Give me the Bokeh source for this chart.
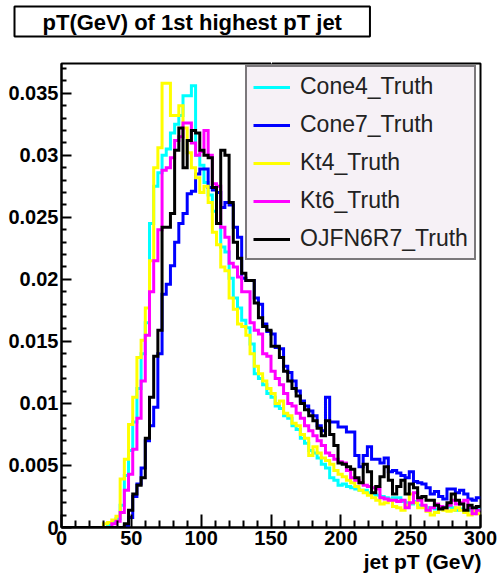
from bokeh.plotting import figure
from bokeh.models import (Range1d, FixedTicker, CustomJSTickFormatter, Legend,
                          LegendItem, Title, LinearAxis)
from bokeh.embed import file_html
from bokeh.resources import INLINE

# ---------------- data (normalised entries per 3 GeV bin, 0-300 GeV) ----------------
bin_width = 3.0

cone4_truth = [
    0, 0, 0, 0, 0, 0, 0, 0, 0, 0,
    0, 0.0002, 0.0004, 0.0007, 0.0018, 0.0042, 0.0062, 0.0085, 0.0112, 0.0140,
    0.0165, 0.0245, 0.0275, 0.0286, 0.0300, 0.0305, 0.0318, 0.0325, 0.0332, 0.0348,
    0.0348, 0.0356, 0.0300, 0.0292, 0.0278, 0.0268, 0.0255, 0.0245, 0.0226, 0.0222,
    0.0201, 0.0185, 0.0177, 0.0167, 0.0161, 0.0148, 0.0124, 0.0120, 0.0115, 0.0108,
    0.0105, 0.0098, 0.0096, 0.0090, 0.0088, 0.0082, 0.0079, 0.0072, 0.0068, 0.0062,
    0.0060, 0.0056, 0.0051, 0.0048, 0.0040, 0.0038, 0.0034, 0.0035, 0.0033, 0.0032,
    0.0031, 0.0030, 0.0030, 0.0028, 0.0027, 0.0026, 0.0025, 0.0024, 0.0023, 0.0024,
    0.0024, 0.0021, 0.0020, 0.0019, 0.0021, 0.0018, 0.0017, 0.0016, 0.0016, 0.0015,
    0.0017, 0.0015, 0.0017, 0.0016, 0.0014, 0.0015, 0.0013, 0.0014, 0.0013, 0.0015,
]

cone7_truth = [
    0, 0, 0, 0, 0, 0, 0, 0, 0, 0,
    0, 0, 0, 0, 0, 0.0001, 0.0008, 0.0025, 0.0035, 0.0048,
    0.0070, 0.0082, 0.0097, 0.0140, 0.0188, 0.0196, 0.0211, 0.0230, 0.0245, 0.0253,
    0.0269, 0.0271, 0.0285, 0.0289, 0.0289, 0.0274, 0.0272, 0.0270, 0.0258, 0.0262,
    0.0260, 0.0242, 0.0234, 0.0201, 0.0199, 0.0199, 0.0185, 0.0180, 0.0164, 0.0158,
    0.0156, 0.0145, 0.0144, 0.0130, 0.0125, 0.0118, 0.0110, 0.0102, 0.0098, 0.0094,
    0.0090, 0.0082, 0.0078, 0.0105, 0.0085, 0.0085, 0.0081, 0.0081, 0.0077, 0.0077,
    0.0058, 0.0049, 0.0058, 0.0065, 0.0055, 0.0055, 0.0052, 0.0056, 0.0045, 0.0046,
    0.0044, 0.0042, 0.0040, 0.0045, 0.0037, 0.0036, 0.0035, 0.0032, 0.0027, 0.0029,
    0.0025, 0.0023, 0.0031, 0.0031, 0.0028, 0.0030, 0.0027, 0.0023, 0.0022, 0.0024,
]

kt4_truth = [
    0, 0, 0, 0, 0, 0, 0, 0, 0, 0,
    0.0003, 0.0004, 0.0006, 0.0009, 0.0039, 0.0055, 0.0083, 0.0105, 0.0137, 0.0151,
    0.0177, 0.0215, 0.0290, 0.0306, 0.0358, 0.0358, 0.0332, 0.0332, 0.0340, 0.0322,
    0.0302, 0.0290, 0.0282, 0.0270, 0.0275, 0.0262, 0.0238, 0.0228, 0.0210, 0.0207,
    0.0185, 0.0176, 0.0164, 0.0162, 0.0155, 0.0140, 0.0130, 0.0124, 0.0118, 0.0112,
    0.0108, 0.0100, 0.0102, 0.0092, 0.0090, 0.0084, 0.0082, 0.0075, 0.0072, 0.0058,
    0.0065, 0.0060, 0.0056, 0.0054, 0.0051, 0.0046, 0.0043, 0.0041, 0.0038, 0.0036,
    0.0033, 0.0030, 0.0028, 0.0026, 0.0024, 0.0022, 0.0019, 0.0020, 0.0022, 0.0017,
    0.0016, 0.0014, 0.0018, 0.0027, 0.0020, 0.0016, 0.0016, 0.0013, 0.0010, 0.0012,
    0.0015, 0.0014, 0.0013, 0.0014, 0.0016, 0.0014, 0.0012, 0.0010, 0.0013, 0.0011,
]

kt6_truth = [
    0, 0, 0, 0, 0, 0, 0, 0, 0, 0,
    0, 0, 0.0003, 0.0005, 0.0012, 0.0030, 0.0043, 0.0063, 0.0088, 0.0118,
    0.0155, 0.0190, 0.0215, 0.0240, 0.0288, 0.0290, 0.0298, 0.0312, 0.0315, 0.0326,
    0.0326, 0.0310, 0.0300, 0.0303, 0.0320, 0.0300, 0.0277, 0.0275, 0.0242, 0.0234,
    0.0213, 0.0210, 0.0202, 0.0190, 0.0190, 0.0165, 0.0159, 0.0156, 0.0140, 0.0138,
    0.0126, 0.0120, 0.0115, 0.0108, 0.0100, 0.0098, 0.0092, 0.0088, 0.0082, 0.0078,
    0.0074, 0.0070, 0.0066, 0.0060, 0.0058, 0.0055, 0.0053, 0.0052, 0.0046, 0.0040,
    0.0038, 0.0036, 0.0034, 0.0033, 0.0032, 0.0031, 0.0024, 0.0023, 0.0022, 0.0022,
    0.0021, 0.0022, 0.0016, 0.0020, 0.0028, 0.0022, 0.0018, 0.0014, 0.0016, 0.0019,
    0.0017, 0.0016, 0.0018, 0.0022, 0.0019, 0.0020, 0.0022, 0.0016, 0.0011, 0.0014,
]

ojfn6r7_truth = [
    0, 0, 0, 0, 0, 0, 0, 0, 0, 0,
    0, 0, 0, 0, 0, 0.0003, 0.0014, 0.0027, 0.0034, 0.0040,
    0.0072, 0.0105, 0.0138, 0.0159, 0.0242, 0.0242, 0.0253, 0.0304, 0.0322, 0.0290,
    0.0312, 0.0320, 0.0318, 0.0304, 0.0300, 0.0298, 0.0274, 0.0245, 0.0304, 0.0300,
    0.0262, 0.0230, 0.0217, 0.0205, 0.0199, 0.0199, 0.0181, 0.0169, 0.0162, 0.0159,
    0.0146, 0.0146, 0.0137, 0.0126, 0.0118, 0.0112, 0.0106, 0.0100, 0.0095, 0.0090,
    0.0086, 0.0080, 0.0074, 0.0086, 0.0075, 0.0066, 0.0052, 0.0051, 0.0049, 0.0047,
    0.0040, 0.0036, 0.0051, 0.0045, 0.0028, 0.0033, 0.0041, 0.0049, 0.0038, 0.0027,
    0.0033, 0.0038, 0.0027, 0.0035, 0.0032, 0.0024, 0.0025, 0.0022, 0.0022, 0.0018,
    0.0015, 0.0016, 0.0020, 0.0027, 0.0022, 0.0019, 0.0014, 0.0018, 0.0016, 0.0017,
]

series_names = ["Cone4_Truth", "Cone7_Truth", "Kt4_Truth", "Kt6_Truth", "OJFN6R7_Truth"]
series_values = [cone4_truth, cone7_truth, kt4_truth, kt6_truth, ojfn6r7_truth]
series_colors = ["#00ffff", "#0000ff", "#ffff00", "#ff00ff", "#000000"]

x_ticks = [0, 50, 100, 150, 200, 250, 300]
x_tick_labels = ["0", "50", "100", "150", "200", "250", "300"]
y_ticks = [0, 0.005, 0.01, 0.015, 0.02, 0.025, 0.03, 0.035]
y_tick_labels = ["0", "0.005", "0.01", "0.015", "0.02", "0.025", "0.03", "0.035"]

title_text = "pT(GeV) of 1st highest pT jet"
x_title = "jet pT (GeV)"

# ---------------- figure ----------------
FONT = "Liberation Sans"

p = figure(width=497, height=576, output_backend="svg", toolbar_location=None,
           x_range=Range1d(0, 300), y_range=Range1d(0, 0.0374),
           min_border_left=61, min_border_right=17, min_border_top=62,
           min_border_bottom=49,
           background_fill_color="white", border_fill_color="white")
p.grid.visible = False
p.outline_line_color = "black"
p.outline_line_width = 2

edges = [i * bin_width for i in range(len(cone4_truth) + 1)]

items = []
for name, vals, color in zip(series_names, series_values, series_colors):
    r = p.step(edges, list(vals) + [vals[-1]], mode="after",
               line_color=color, line_width=3, line_join="miter")
    items.append(LegendItem(label=name, renderers=[r]))

fmt_code = """
const i = tv.findIndex(t => Math.abs(t - tick) < 1e-9);
return i >= 0 ? tl[i] : "";
"""

xa = p.xaxis[0]
xa.ticker = FixedTicker(ticks=x_ticks,
                        minor_ticks=[v for v in range(0, 301, 10) if v % 50 != 0])
xa.formatter = CustomJSTickFormatter(args=dict(tv=x_ticks, tl=x_tick_labels), code=fmt_code)
xa.major_tick_in = 13
xa.major_tick_out = 0
xa.minor_tick_in = 7
xa.minor_tick_out = 0
xa.major_label_standoff = 3

ya = p.yaxis[0]
ya.ticker = FixedTicker(ticks=y_ticks,
                        minor_ticks=[k * 0.001 for k in range(0, 38) if k % 5 != 0])
ya.formatter = CustomJSTickFormatter(args=dict(tv=y_ticks, tl=y_tick_labels), code=fmt_code)
ya.major_tick_in = 10
ya.major_tick_out = 0
ya.minor_tick_in = 5
ya.minor_tick_out = 0
ya.major_label_standoff = 3

for ax in (xa, ya):
    ax.axis_line_color = "black"
    ax.axis_line_width = 2
    ax.major_tick_line_color = "black"
    ax.major_tick_line_width = 2
    ax.minor_tick_line_color = "black"
    ax.minor_tick_line_width = 2
    ax.major_label_text_font = FONT
    ax.major_label_text_font_style = "bold"
    ax.major_label_text_font_size = "20px"
    ax.major_label_text_color = "black"

legend = Legend(items=items, location=(184, 267), margin=0,
                padding=6, spacing=11, glyph_width=37, glyph_height=26,
                label_height=26, label_standoff=10,
                label_text_font=FONT, label_text_font_size="23px",
                label_text_color="#222222",
                border_line_color="black", border_line_width=2,
                background_fill_color="#f6f1f6", background_fill_alpha=1.0)
p.add_layout(legend)

x_title_obj = Title(text=x_title, align="right", offset=-1, standoff=0,
                    text_font=FONT, text_font_style="bold",
                    text_font_size="21px", text_color="black")
p.add_layout(x_title_obj, "below")

# blank spacer axis (one white outward tick, no line, no label) that lifts the
# boxed title away from the frame
spacer_axis = LinearAxis(ticker=FixedTicker(ticks=[150], minor_ticks=[]),
                         formatter=CustomJSTickFormatter(code='return ""'),
                         major_tick_out=19, major_tick_in=0,
                         minor_tick_out=0, minor_tick_in=0,
                         major_label_standoff=0,
                         major_label_text_font_size="1px",
                         axis_line_color=None,
                         major_tick_line_color="white", major_tick_line_width=1,
                         minor_tick_line_color=None)
p.add_layout(spacer_axis, "above")

top_title = Title(text=title_text, align="left", offset=-47, standoff=12,
                  vertical_align="top",
                  text_font=FONT, text_font_style="bold",
                  text_font_size="22px", text_color="black",
                  border_line_color="black", border_line_width=2,
                  background_fill_color="white",
                  padding=dict(left=28, right=28, top=3, bottom=2))
p.add_layout(top_title, "above")

open("out.html", "w").write(file_html(p, INLINE))
